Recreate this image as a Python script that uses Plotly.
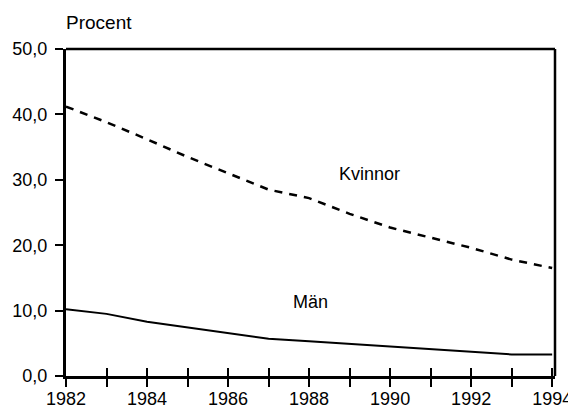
import plotly.graph_objects as go

years = list(range(1982, 1995))
kvinnor = [41.2, 38.8, 36.2, 33.5, 31.0, 28.5, 27.2, 24.8, 22.7, 21.2, 19.6, 17.8, 16.5]
man = [10.2, 9.5, 8.3, 7.4, 6.5, 5.7, 5.3, 4.9, 4.5, 4.1, 3.7, 3.3, 3.3]
x_tick_labels = [str(y) if y % 2 == 0 else "" for y in years]
y_ticks = [0, 10, 20, 30, 40, 50]

FONT = "Liberation Sans, Arial, sans-serif"

fig = go.Figure()
fig.add_trace(go.Scatter(x=years, y=kvinnor, mode="lines", name="Kvinnor",
                         line=dict(color="black", width=2.5, dash="8px,7px"),
                         showlegend=False, hoverinfo="skip"))
fig.add_trace(go.Scatter(x=years, y=man, mode="lines", name="Män",
                         line=dict(color="black", width=2),
                         showlegend=False, hoverinfo="skip"))
# invisible trace so the overlay axis (inner tick halves) is drawn
fig.add_trace(go.Scatter(x=[years[0]], y=[0], xaxis="x2", mode="markers",
                         marker=dict(opacity=0), showlegend=False, hoverinfo="skip"))

xr = [1982, 1994.07]
# the page body adds an 8px margin, so the figure is 8px smaller and offset
fig.update_layout(
    width=568, height=402,
    margin=dict(l=58, r=21, t=41, b=34),
    paper_bgcolor="white", plot_bgcolor="white",
    separators=", ",
    font=dict(family=FONT, size=18, color="black"),
    xaxis=dict(range=xr, tickvals=years, ticktext=x_tick_labels,
               automargin=False,
               showgrid=False, zeroline=False, showline=True,
               linecolor="black", linewidth=3,
               ticks="outside", ticklen=8, tickwidth=2, tickcolor="black",
               ticklabelstandoff=-4,
               tickfont=dict(size=18, family=FONT)),
    xaxis2=dict(range=xr, overlaying="x", anchor="y", side="bottom",
                tickvals=years, showticklabels=False, automargin=False,
                showgrid=False, zeroline=False, showline=False,
                ticks="inside", ticklen=8, tickwidth=2, tickcolor="black"),
    yaxis=dict(range=[0, 50], tickvals=y_ticks, tickformat=".1f",
               automargin=False,
               showgrid=False, zeroline=False, showline=True,
               linecolor="black", linewidth=3,
               ticks="outside", ticklen=8, tickwidth=2, tickcolor="black",
               ticklabelstandoff=4,
               tickfont=dict(size=18, family=FONT)),
    shapes=[
        dict(type="line", xref="paper", yref="paper", x0=0, x1=1, y0=1, y1=1,
             line=dict(color="black", width=2.5)),
        dict(type="line", xref="paper", yref="paper", x0=1, x1=1, y0=0, y1=1,
             line=dict(color="black", width=2.5)),
    ],
    annotations=[
        dict(text="Procent", xref="paper", yref="paper", x=0, y=1,
             xanchor="left", yanchor="middle", xshift=-2, yshift=27,
             showarrow=False, font=dict(size=19, family=FONT)),
        dict(text="Kvinnor", x=1989.5, y=30.9, xref="x", yref="y",
             showarrow=False, font=dict(size=18, family=FONT)),
        dict(text="Män", x=1988.04, y=11.3, xref="x", yref="y",
             showarrow=False, font=dict(size=18, family=FONT)),
    ],
)

fig.write_html("out.html")
